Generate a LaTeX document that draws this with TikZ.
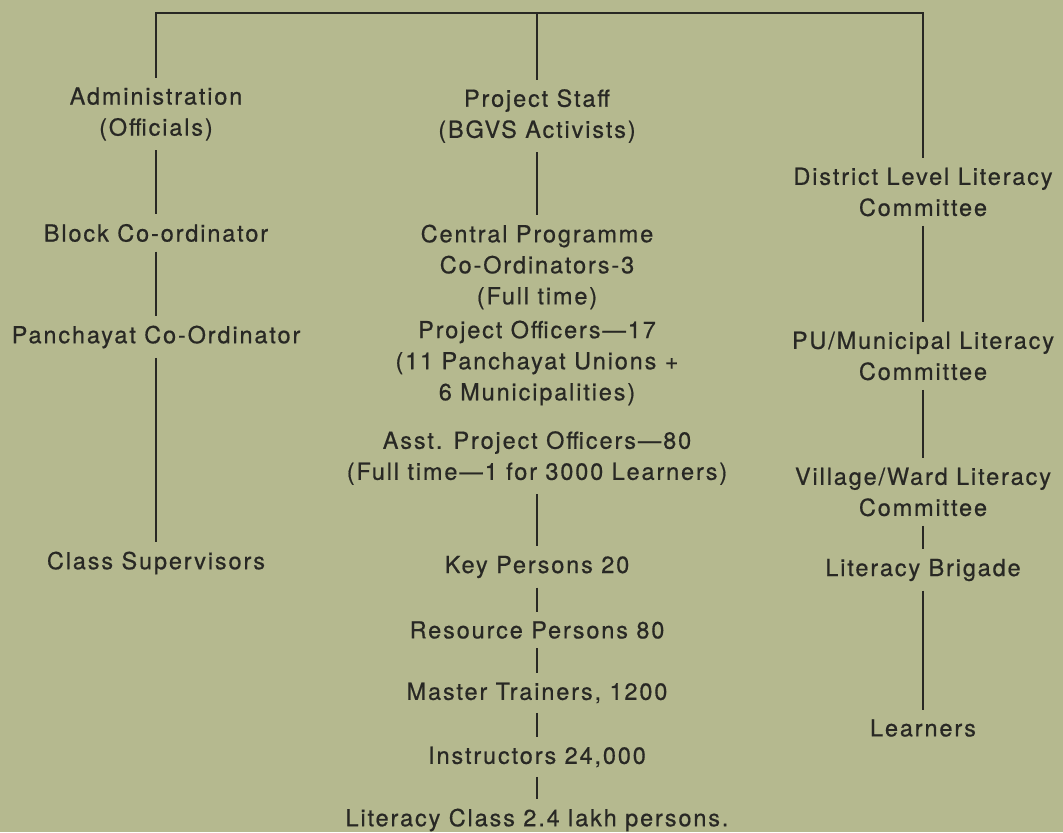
\documentclass[tikz,border=0pt]{standalone}
\usepackage{fontspec}
\setmainfont{TeX Gyre Heros}[LetterSpace=8,FakeBold=0.6]
\usepackage{tikz}
\definecolor{paper}{RGB}{181,185,143}
\definecolor{ink}{RGB}{40,40,36}

\begin{document}
\begin{tikzpicture}[x=0.75pt,y=-0.75pt,
    lbl/.style={align=center,text=ink,inner xsep=3pt,inner ysep=7pt,font=\fontsize{17.6}{23.3}\selectfont},
    ln/.style={draw=ink,line width=1.6pt}]
                    \useasboundingbox (0,0) rectangle (1063,832);
                    \fill[paper] (0,0) rectangle (1063,832);

                    \node[lbl] (adm) at (156,114) {Administration\\(Officials)};
                    \node[lbl] (blk) at (156,233) {Block Co-ordinator};
                    \node[lbl] (pan) at (156,337) {Panchayat Co-Ordinator};
                    \node[lbl] (cls) at (156,563) {Class Supervisors};

                    \node[lbl] (stf) at (537,116) {Project Staff\\(BGVS Activists)};
                    \node[lbl] (cpc) at (537,267) {Central Programme\\Co-Ordinators-3\\(Full time)};
                    \node[lbl] (po)  at (537,363) {Project Officers—17\\(11 Panchayat Unions +\\6 Municipalities)};
                    \node[lbl] (apo) at (537,458) {Asst. Project Officers—80\\(Full time—1 for 3000 Learners)};
                    \node[lbl] (key) at (537,567) {Key Persons 20};
                    \node[lbl] (res) at (537,630) {Resource Persons 80};
                    \node[lbl] (mst) at (537,693) {Master Trainers, 1200};
                    \node[lbl] (ins) at (537,757) {Instructors 24,000};
                    \node[lbl] (lit) at (537,820) {Literacy Class 2.4 lakh persons.};

                    \node[lbl] (dlc) at (923,192) {District Level Literacy\\Committee};
                    \node[lbl] (puc) at (923,356) {PU/Municipal Literacy\\Committee};
                    \node[lbl] (vwc) at (923,492) {Village/Ward Literacy\\Committee};
                    \node[lbl] (brg) at (923,570) {Literacy Brigade};
                    \node[lbl] (lrn) at (923,728) {Learners};

                    \coordinate (bar) at (537,13);
                    \draw[ink,line width=1pt] (adm.north) |- (bar) -| (dlc.north);
                    \draw[ln] (bar) -- (stf);

                    \draw[ln] (adm) -- (blk);
                    \draw[ln] (blk) -- (pan);
                    \draw[ln] (pan) -- (cls);

                    \draw[ln] (stf) -- (cpc);
                    \draw[ln] (apo) -- (key);
                    \draw[ln] (key) -- (res);
                    \draw[ln] (res) -- (mst);
                    \draw[ln] (mst) -- (ins);
                    \draw[ln] (ins) -- (lit);

                    \draw[ln] (dlc) -- (puc);
                    \draw[ln] (puc) -- (vwc);
                    \draw[ln] (vwc) -- (brg);
                    \draw[ln] (brg) -- (lrn);
                \end{tikzpicture}
\end{document}
